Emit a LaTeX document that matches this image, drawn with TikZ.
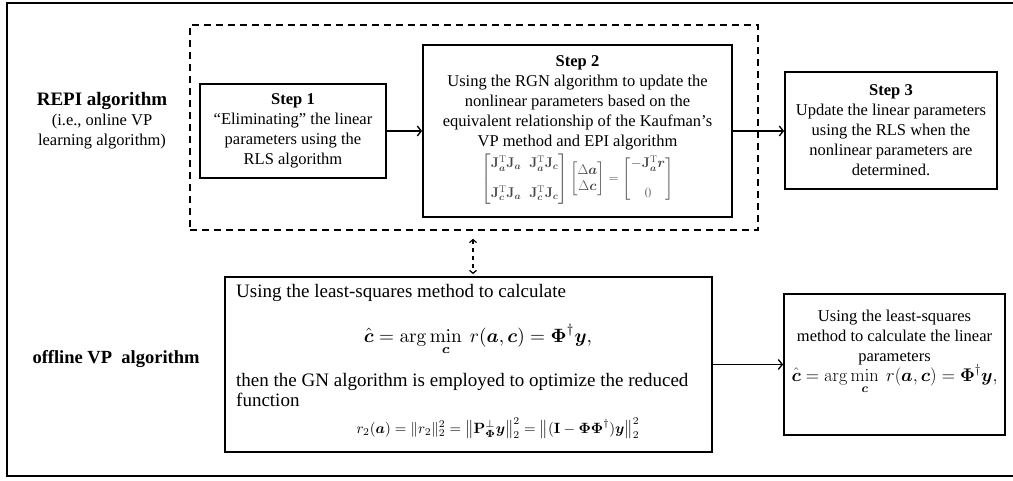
\documentclass[tikz,border=0pt]{standalone}
\usepackage{amsmath}
\usepackage{graphicx}
\usepackage[no-math]{fontspec}
\setmainfont{Liberation Serif}
\usetikzlibrary{arrows.meta}
\newcommand{\mbv}[1]{\boldsymbol{#1}}
\newcommand{\chateq}{$\displaystyle \hat{\mbv c}=\arg\min_{\mbv c}\ r(\mbv a,\mbv c)=\mbv\Phi^{\dagger}\mbv y,$}
\begin{document}
\begin{tikzpicture}[x=1pt,y=-1pt,
  frameline/.style={line width=1.8pt},
  stepbox/.style={draw, line width=1.8pt, align=center, inner sep=0pt,
    font=\fontsize{16.5}{20}\selectfont},
  plainbox/.style={draw, line width=1.8pt, inner sep=0pt},
  dashbox/.style={draw, line width=1.6pt, dash pattern=on 7pt off 5pt, inner sep=0pt},
  btext/.style={inner sep=0pt, font=\fontsize{19}{19}\selectfont},
  eqnode/.style={inner sep=0pt, anchor=base},
  arr/.style={line width=1.3pt, -{Straight Barb[length=4pt,width=10pt,line width=1.3pt]}},
  darr/.style={line width=1.2pt, dash pattern=on 4pt off 4pt,
    {Straight Barb[length=3pt,width=7pt,line width=1.2pt]}-{Straight Barb[length=3pt,width=7pt,line width=1.2pt]}},
]
\useasboundingbox (0,0) rectangle (1013,480);
% outer frame
\draw[frameline] (1013,3) -- (7,3) -- (7,476) -- (1013,476);

% dashed group
\node[dashbox, minimum width=568pt, minimum height=205pt] (dbox) at (474,127.5) {};

% left labels
\node[align=center, inner sep=0pt, font=\fontsize{16.5}{20}\selectfont] (repi) at (102,121)
  {{\fontsize{19}{20}\selectfont\bfseries REPI algorithm}\\(i.e., online VP\\learning algorithm)};
\node[inner sep=0pt, font=\fontsize{18.5}{20}\selectfont\bfseries, anchor=base] (offl) at (116,363)
  {offline VP\ \ algorithm};

% steps
\node[stepbox, minimum width=186pt, minimum height=94pt] (s1) at (293,131)
  {\textbf{Step 1}\\“Eliminating” the linear\\parameters using the\\RLS algorithm};
\node[stepbox, minimum width=309pt, minimum height=172pt] (s2) at (577.5,131)
  {\textbf{Step 2}\\Using the RGN algorithm to update the\\nonlinear parameters based on the\\equivalent relationship of the Kaufman’s\\VP method and EPI algorithm\\[3pt]
  {\color{black!72}\resizebox{192pt}{!}{%
  $\begin{bmatrix}\mathbf{J}_{\mbv a}^{\mathrm T}\mathbf{J}_{\mbv a} & \mathbf{J}_{\mbv a}^{\mathrm T}\mathbf{J}_{\mbv c}\\[16pt]
   \mathbf{J}_{\mbv c}^{\mathrm T}\mathbf{J}_{\mbv a} & \mathbf{J}_{\mbv c}^{\mathrm T}\mathbf{J}_{\mbv c}\end{bmatrix}
   \begin{bmatrix}\Delta \mbv a\\ \Delta \mbv c\end{bmatrix}
   =\begin{bmatrix}-\mathbf{J}_{\mbv a}^{\mathrm T}\mbv r\\[16pt] 0\end{bmatrix}$}}\rule[-24pt]{0pt}{0pt}};
\node[stepbox, minimum width=212pt, minimum height=117pt] (s3) at (891,130.5)
  {\textbf{Step 3}\\Update the linear parameters\\using the RLS when the\\nonlinear parameters are\\determined.};

% offline boxes
\node[plainbox, minimum width=487pt, minimum height=175pt] (bot) at (468.5,364.5) {};
\node[btext, anchor=base west] (b1) at (236,297) {Using the least-squares method to calculate};
\node[eqnode] (b2) at (478,342) {\resizebox{228pt}{!}{\chateq}};
\node[btext, anchor=base west] (b3) at (236,386) {then the GN algorithm is employed to optimize the reduced};
\node[btext, anchor=base west] (b4) at (236,406) {function};
\node[eqnode] (b5) at (498,433)
  {\resizebox{283pt}{!}{$r_2(\mbv a)=\|r_2\|_2^2=\bigl\|\mathbf{P}_{\mbv\Phi}^{\perp}\mbv y\bigr\|_2^2=\bigl\|(\mathbf{I}-\mbv\Phi\mbv\Phi^{\dagger})\mbv y\bigr\|_2^2$}};

\node[stepbox, minimum width=221pt, minimum height=141pt] (rbox) at (894.5,364.5)
  {Using the least-squares\\method to calculate the linear\\parameters\\
  \resizebox{206pt}{!}{\chateq}\rule[-38pt]{0pt}{0pt}};

% connectors
\draw[arr] (s1.east) -- (s1.east -| s2.west);
\draw[arr] (s2.east) -- (s2.east -| s3.west);
\draw[arr] (bot.east) -- (bot.east -| rbox.west);
\draw[darr, shorten <=8pt, shorten >=2pt] ([xshift=4.5pt]dbox.south -| bot.north) -- ([xshift=4.5pt]bot.north);
\end{tikzpicture}
\end{document}
